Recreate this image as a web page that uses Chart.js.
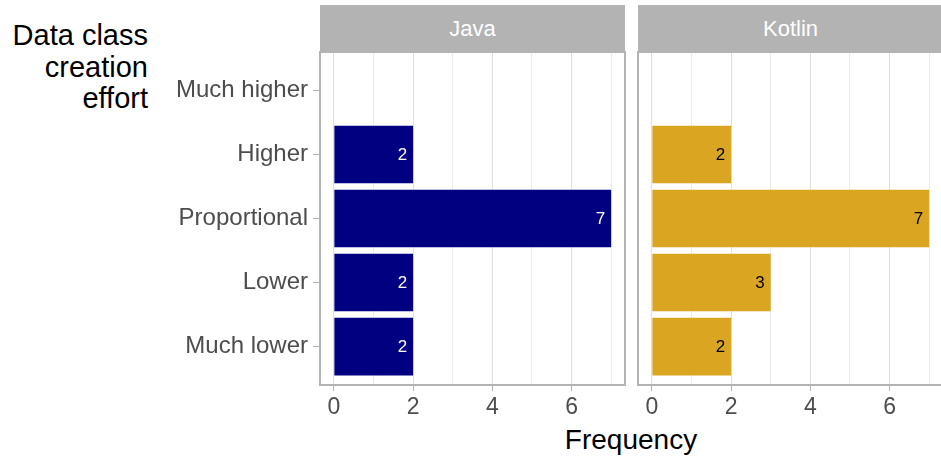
<!DOCTYPE html>
<html>
<head>
<meta charset="utf-8">
<script src="https://cdn.jsdelivr.net/npm/chart.js@4.4.1/dist/chart.umd.min.js"></script>
<style>
  html, body { margin: 0; padding: 0; background: #fff; }
  body { position: relative; width: 941px; height: 458px; overflow: hidden; font-family: "Liberation Sans", Arial, sans-serif; }
  canvas { position: absolute; top: 0; }
  .strip { position: absolute; top: 5px; height: 47px; background: #b3b3b3; color: #fff; font-size: 22px;
           display: flex; align-items: center; justify-content: center; }
  #ytitle { position: absolute; left: 0; top: 20px; width: 148px; text-align: right; font-size: 29px; line-height: 31.5px; color: #000; }
  #xtitle { position: absolute; left: 431px; top: 424px; width: 400px; text-align: center; font-size: 28px; line-height: 32px; color: #000; }
</style>
</head>
<body>
<div class="strip" style="left:320px; width:305px">Java</div>
<div class="strip" style="left:638px; width:305px">Kotlin</div>
<div id="ytitle">Data class<br>creation<br>effort</div>
<div id="xtitle">Frequency</div>
<canvas id="java" width="630" height="458" style="left:0"></canvas>
<canvas id="kotlin" width="320" height="458" style="left:630px"></canvas>
<script>
const categories = ['Much higher', 'Higher', 'Proportional', 'Lower', 'Much lower']
const javaCounts = [0, 2, 7, 2, 2]
const kotlinCounts = [0, 2, 7, 3, 2]
const xTicks = [0, 1, 2, 3, 4, 5, 6, 7]

const font = '"Liberation Sans", Arial, sans-serif'

const barLabels = {
  id: 'barLabels',
  afterDatasetsDraw(chart, args, opts) {
    const ctx = chart.ctx
    const meta = chart.getDatasetMeta(0)
    ctx.save()
    ctx.font = `17px ${font}`
    ctx.fillStyle = opts.color
    ctx.textAlign = 'right'
    ctx.textBaseline = 'middle'
    meta.data.forEach((bar, i) => {
      const v = chart.data.datasets[0].data[i].x
      if (v > 0) ctx.fillText(String(v), bar.x - 6, bar.y + 1)
    })
    ctx.restore()
  }
}

const panelBorder = {
  id: 'panelBorder',
  afterDraw(chart) {
    const ctx = chart.ctx
    const a = chart.chartArea
    ctx.save()
    ctx.strokeStyle = '#b3b3b3'
    ctx.lineWidth = 2
    ctx.strokeRect(a.left, a.top, a.right - a.left, a.bottom - a.top)
    ctx.restore()
  }
}

function makeChart(id, counts, colour, labelColour, showY, padding) {
  return new Chart(document.getElementById(id), {
    type: 'bar',
    data: {
      datasets: [{
        data: counts.map((v, i) => ({x: v, y: i})),
        backgroundColor: colour,
        borderWidth: 0,
        categoryPercentage: 1,
        barPercentage: 0.9
      }]
    },
    options: {
      indexAxis: 'y',
      responsive: false,
      animation: false,
      events: [],
      layout: {padding: padding},
      plugins: {
        legend: {display: false},
        tooltip: {enabled: false},
        barLabels: {color: labelColour}
      },
      scales: {
        x: {
          type: 'linear',
          min: -0.35,
          max: 7.35,
          afterBuildTicks: s => { s.ticks = xTicks.map(v => ({value: v})) },
          afterFit: s => { s.height = 73 },
          border: {display: false},
          grid: {
            color: c => c.tick && c.tick.value % 2 === 0 ? '#dedede' : '#ebebeb',
            lineWidth: 1,
            tickLength: 6,
            tickColor: c => c.tick && c.tick.value % 2 === 0 ? '#b3b3b3' : 'rgba(0,0,0,0)'
          },
          ticks: {
            autoSkip: false,
            maxRotation: 0,
            padding: 3,
            color: '#4d4d4d',
            font: {family: font, size: 23},
            callback: v => v % 2 === 0 ? String(v) : ''
          }
        },
        y: {
          type: 'linear',
          display: showY,
          reverse: true,
          offset: false,
          min: -0.6,
          max: 4.6,
          afterBuildTicks: s => { s.ticks = categories.map((c, i) => ({value: i})) },
          afterFit: s => { if (showY) s.width = 320 },
          border: {display: false},
          grid: {offset: false, drawOnChartArea: false, tickLength: 7, tickColor: '#b3b3b3'},
          ticks: {
            padding: 5,
            color: '#4d4d4d',
            font: {family: font, size: 24},
            callback: v => categories[v] ?? ''
          }
        }
      }
    },
    plugins: [barLabels, panelBorder]
  })
}

makeChart('java', javaCounts, '#000080', '#ffffff', true, {left: 0, right: 5, top: 52, bottom: 0})
makeChart('kotlin', kotlinCounts, '#daa520', '#000000', false, {left: 8, right: 7, top: 52, bottom: 0})
</script>
</body>
</html>
